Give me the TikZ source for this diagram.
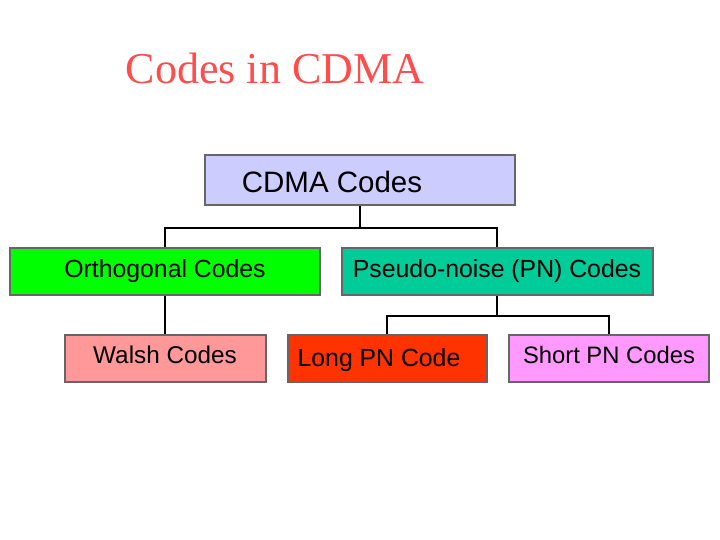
\documentclass[tikz,border=0pt]{standalone}
\usepackage{fontspec}
\setmainfont{Liberation Serif}
\newfontfamily\arial{Liberation Sans}
\begin{document}
\begin{tikzpicture}[x=1pt,y=-1pt,
  box/.style={draw=gray!80!black,line width=2pt,minimum height=47pt,inner sep=0pt,font=\arial\fontsize{24.8}{28}\selectfont},
  con/.style={line width=2pt,black}]
\useasboundingbox (0,0) rectangle (720,540);
\node[text=red!70!white,font=\fontsize{44}{50}\selectfont] (title) at (275,68) {Codes in CDMA};
\node[box,fill={rgb,255:red,204;green,204;blue,255},minimum width=310pt,minimum height=50pt] (cdma) at (360,180) {};
\node[font=\arial\fontsize{29.5}{33}\selectfont] (cdmat) at (332,182) {CDMA Codes};
\node[box,fill={rgb,255:red,0;green,255;blue,0},minimum width=310pt] (orth) at (165,271) {Orthogonal Codes};
\node[box,fill={rgb,255:red,0;green,204;blue,153},minimum width=311pt] (pn) at (497,271) {Pseudo-noise (PN) Codes};
\node[box,fill={rgb,255:red,255;green,153;blue,153},minimum width=201pt] (walsh) at (165,358) {};
\node[font=\arial\fontsize{24.3}{28}\selectfont] (walsht) at (165,355) {Walsh Codes};
\node[box,fill={rgb,255:red,255;green,51;blue,0},minimum width=199pt] (long) at (387,358) {};
\node[font=\arial\fontsize{24.8}{28}\selectfont] (longt) at (379,360) {Long PN Code};
\node[box,fill={rgb,255:red,255;green,153;blue,255},minimum width=200pt] (short) at (609,358) {};
\node[font=\arial\fontsize{23.8}{28}\selectfont] (shortt) at (609,355) {Short PN Codes};
\coordinate (j1) at (360,228);
\coordinate (j2) at (497,316);
\draw[con] (cdma.south) -- (j1);
\draw[con] (orth.north) |- (j1) -| (pn.north);
\draw[con] (orth.south) -- (walsh.north);
\draw[con] (pn.south) -- (j2);
\draw[con] (long.north) |- (j2) -| (short.north);
\end{tikzpicture}
\end{document}
